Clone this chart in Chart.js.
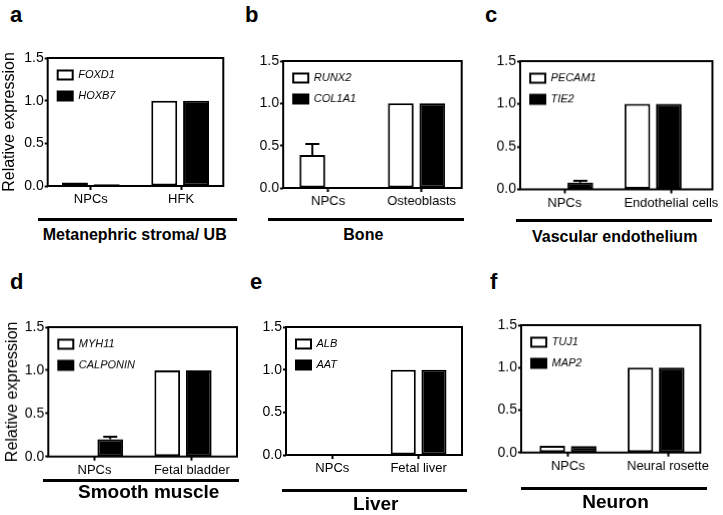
<!DOCTYPE html>
<html><head><meta charset="utf-8">
<script src="https://cdn.jsdelivr.net/npm/chart.js@4"></script>
<style>
html,body{margin:0;padding:0;background:#fff;overflow:hidden;width:723px;height:515px;}
#root{position:relative;width:723px;height:515px;font-family:"Liberation Sans",Arial,sans-serif;color:#000;}
.panel{position:absolute;}
.panel canvas{display:block;}
.letter{position:absolute;font-size:22px;line-height:22px;font-weight:bold;}
.rule{position:absolute;height:3px;background:#000;}
.group{position:absolute;width:300px;text-align:center;font-weight:bold;white-space:nowrap;}
</style></head><body><div id="root"></div>
<script>
// ---------- data ----------
const panelLetters = ['a', 'b', 'c', 'd', 'e', 'f'];
const groupTitles = ['Metanephric stroma/ UB', 'Bone', 'Vascular endothelium', 'Smooth muscle', 'Liver', 'Neuron'];
const yAxisTitle = 'Relative expression';
const yTickValues = [0, 0.5, 1.0, 1.5];

const categoriesA = ['NPCs', 'HFK'];
const genesA = ['FOXD1', 'HOXB7'];
const openBarsA = [0.04, 1.0];
const filledBarsA = [0.02, 1.0];

const categoriesB = ['NPCs', 'Osteoblasts'];
const genesB = ['RUNX2', 'COL1A1'];
const openBarsB = [0.39, 1.0];
const openErrorsB = [0.13, 0];
const filledBarsB = [0.005, 1.0];

const categoriesC = ['NPCs', 'Endothelial cells'];
const genesC = ['PECAM1', 'TIE2'];
const openBarsC = [0, 1.0];
const filledBarsC = [0.08, 1.0];
const filledErrorsC = [0.02, 0];

const categoriesD = ['NPCs', 'Fetal bladder'];
const genesD = ['MYH11', 'CALPONIN'];
const openBarsD = [0, 1.0];
const filledBarsD = [0.2, 1.0];
const filledErrorsD = [0.03, 0];

const categoriesE = ['NPCs', 'Fetal liver'];
const genesE = ['ALB', 'AAT'];
const openBarsE = [0, 1.0];
const filledBarsE = [0, 1.0];

const categoriesF = ['NPCs', 'Neural rosette'];
const genesF = ['TUJ1', 'MAP2'];
const openBarsF = [0.08, 1.0];
const filledBarsF = [0.075, 1.0];

const panels = [
  {cats: categoriesA, genes: genesA, open: openBarsA, filled: filledBarsA, openErr: null, filledErr: null},
  {cats: categoriesB, genes: genesB, open: openBarsB, filled: filledBarsB, openErr: openErrorsB, filledErr: null},
  {cats: categoriesC, genes: genesC, open: openBarsC, filled: filledBarsC, openErr: null, filledErr: filledErrorsC},
  {cats: categoriesD, genes: genesD, open: openBarsD, filled: filledBarsD, openErr: null, filledErr: filledErrorsD},
  {cats: categoriesE, genes: genesE, open: openBarsE, filled: filledBarsE, openErr: null, filledErr: null},
  {cats: categoriesF, genes: genesF, open: openBarsF, filled: filledBarsF, openErr: null, filledErr: null}
];

// ---------- layout (positions / sizes only) ----------
const layoutSpecs = [
  {boxL: 47.7, boxR: 223.3, boxT: 58,    boxB: 186,   xMin: -0.483, xMax: 1.483, shift: 0.01, yTitle: true,  titlePad: 0,
   letter: [10, 4.4],  rule: [37.7, 237.3, 219.3], group: [134.7, 234.5, 16]},
  {boxL: 283.3, boxR: 461,  boxT: 61,    boxB: 188,   xMin: -0.508, xMax: 1.511, shift: 0.057, yTitle: false, titlePad: 0,
   letter: [245, 4.4], rule: [268, 464, 219.3], group: [363.3, 234.5, 16]},
  {boxL: 520,  boxR: 711.5, boxT: 61,    boxB: 188.5, xMin: -0.502, xMax: 1.671, shift: 0.205, yTitle: false, titlePad: 0,
   letter: [485, 4.4], rule: [516, 711.7, 220], group: [614.7, 237, 16]},
  {boxL: 48.3, boxR: 237,   boxT: 327.3, boxB: 456,   xMin: -0.522, xMax: 1.61,  shift: 0.1,  yTitle: true,  titlePad: 3,
   letter: [10, 271.4], rule: [43, 239, 480], group: [148.7, 491.7, 19]},
  {boxL: 285.7, boxR: 461.7, boxT: 326.7, boxB: 454.7, xMin: -0.537, xMax: 1.503, shift: 0,   yTitle: false, titlePad: 0,
   letter: [250, 271.4], rule: [281.7, 466.7, 490], group: [375.8, 503, 19]},
  {boxL: 521,  boxR: 701.7, boxT: 325,   boxB: 451.7, xMin: -0.532, xMax: 1.503, shift: 0.135, yTitle: false, titlePad: 0,
   letter: [490, 271.4], rule: [520.7, 706.7, 488.3], group: [615.5, 501.7, 19]}
];

const FONT = '"Liberation Sans", Arial, sans-serif';
Chart.defaults.font.family = FONT;
Chart.defaults.color = '#000';

const framePlugin = {
  id: 'frame',
  afterDraw(chart) {
    const {left, top, right, bottom} = chart.chartArea;
    const ctx = chart.ctx;
    ctx.save();
    ctx.strokeStyle = '#000';
    ctx.lineWidth = 2;
    ctx.strokeRect(left, top, right - left, bottom - top);
    ctx.restore();
  }
};

const errorBarPlugin = {
  id: 'errbars',
  afterDatasetsDraw(chart) {
    const ctx = chart.ctx;
    const yScale = chart.scales.y;
    chart.data.datasets.forEach((ds, di) => {
      if (!ds.errors) return;
      const meta = chart.getDatasetMeta(di);
      meta.data.forEach((bar, k) => {
        const e = ds.errors[k];
        if (!e) return;
        const v = ds.data[k].y;
        const yt = yScale.getPixelForValue(v + e);
        ctx.save();
        ctx.strokeStyle = '#000';
        ctx.lineWidth = 2;
        ctx.beginPath();
        ctx.moveTo(bar.x, bar.y);
        ctx.lineTo(bar.x, yt);
        ctx.moveTo(bar.x - 7, yt);
        ctx.lineTo(bar.x + 7, yt);
        ctx.stroke();
        ctx.restore();
      });
    });
  }
};

const root = document.getElementById('root');

function addDiv(cls, styles, text) {
  const d = document.createElement('div');
  d.className = cls;
  Object.assign(d.style, styles);
  if (text !== undefined) d.textContent = text;
  root.appendChild(d);
  return d;
}

panels.forEach((P, i) => {
  const L = layoutSpecs[i];
  const yW = L.yTitle ? L.boxL : 40;
  const padT = 12, padR = 10, xH = 28;
  const box = addDiv('panel', {
    left: (L.boxL - yW) + 'px',
    top: (L.boxT - padT) + 'px',
    width: (L.boxR - L.boxL + yW + padR) + 'px',
    height: (L.boxB - L.boxT + padT + xH) + 'px'
  });
  const canvas = document.createElement('canvas');
  box.appendChild(canvas);

  const mk = (vals) => P.cats.map((c, k) => ({x: k, y: vals[k]}));

  new Chart(canvas, {
    type: 'bar',
    data: {
      datasets: [
        {label: P.genes[0], data: mk(P.open), backgroundColor: '#fff', borderColor: '#000',
         borderWidth: 2, borderSkipped: false, errors: P.openErr},
        {label: P.genes[1], data: mk(P.filled), backgroundColor: '#000', borderColor: '#000',
         borderWidth: 2, borderSkipped: false, errors: P.filledErr}
      ]
    },
    options: {
      responsive: true,
      maintainAspectRatio: false,
      animation: false,
      devicePixelRatio: 1,
      layout: {padding: {top: padT, right: padR, left: 0, bottom: 0}},
      datasets: {bar: {categoryPercentage: 0.712, barPercentage: 0.816}},
      plugins: {
        legend: {
          position: 'chartArea', align: 'start',
          title: {display: true, text: ' ', font: {size: 2}, padding: {top: 11.1, bottom: 0}},
          labels: {boxWidth: 15, boxHeight: 9, padding: 10, color: '#000',
                   font: {family: FONT, size: 11, style: 'italic'}}
        },
        tooltip: {enabled: false}
      },
      scales: {
        x: {
          type: 'linear', min: L.xMin, max: L.xMax, offset: false,
          afterBuildTicks: s => {
            s.ticks = P.cats.map((c, k) => ({value: k === P.cats.length - 1 ? k + L.shift : k}));
          },
          afterFit: s => { s.height = xH; },
          ticks: {autoSkip: false, maxRotation: 0, minRotation: 0, padding: 2, color: '#000',
                  font: {family: FONT, size: 13}, callback: (v, idx) => P.cats[idx]},
          grid: {display: true, offset: false, drawOnChartArea: false, drawTicks: true,
                 tickLength: 4, tickWidth: 2, color: '#000'},
          border: {display: false}
        },
        y: {
          type: 'linear', min: 0, max: 1.5,
          afterBuildTicks: s => { s.ticks = yTickValues.map(v => ({value: v})); },
          afterFit: s => { s.width = yW; },
          ticks: {padding: 1, color: '#000', font: {family: FONT, size: 14},
                  callback: v => Number(v).toFixed(1)},
          grid: {display: true, drawOnChartArea: false, drawTicks: true,
                 tickLength: 3, tickWidth: 2, color: '#000'},
          border: {display: false},
          title: {display: L.yTitle, text: yAxisTitle, color: '#000',
                  font: {family: FONT, size: 16}, padding: {top: L.titlePad, bottom: 0}}
        }
      }
    },
    plugins: [framePlugin, errorBarPlugin]
  });

  addDiv('letter', {left: L.letter[0] + 'px', top: L.letter[1] + 'px'}, panelLetters[i]);
  addDiv('rule', {left: L.rule[0] + 'px', width: (L.rule[1] - L.rule[0]) + 'px', top: (L.rule[2] - 1.5) + 'px'});
  const fs = L.group[2];
  addDiv('group', {left: (L.group[0] - 150) + 'px', top: (L.group[1] - fs / 2) + 'px',
                   fontSize: fs + 'px', lineHeight: fs + 'px'}, groupTitles[i]);
});
</script>
</body></html>
